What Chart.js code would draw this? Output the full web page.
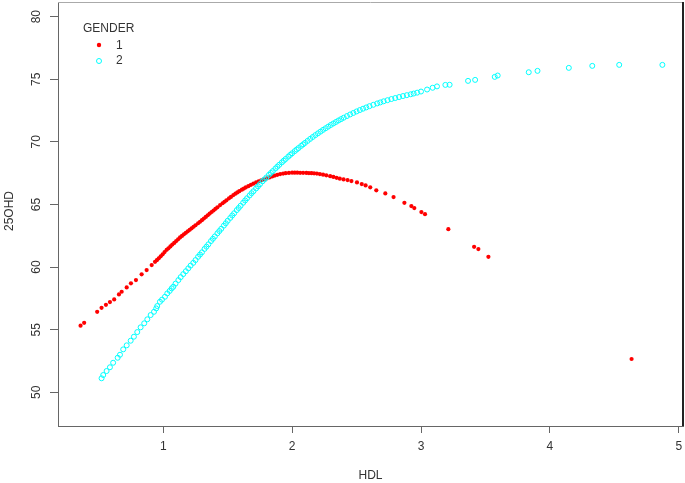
<!DOCTYPE html>
<html>
<head>
<meta charset="utf-8">
<script src="https://cdn.jsdelivr.net/npm/chart.js@4.4.1/dist/chart.umd.min.js"></script>
<style>
  body { margin: 0; background: #fff; }
  #wrap { width: 685px; height: 483px; }
</style>
</head>
<body>
<div id="wrap"><canvas id="hdlChart" width="685" height="483"></canvas></div>
<script>
// ticks
const xTicks = [1, 2, 3, 4, 5];
const yTicks = [50, 55, 60, 65, 70, 75, 80];

// GENDER 1 (red dots)
const hdl1 = [0.358, 0.386, 0.487, 0.521, 0.555, 0.586, 0.619, 0.656, 0.677, 0.716, 0.749, 0.788, 0.832, 0.871, 0.910, 0.936,
  0.95, 0.965, 0.98, 0.995, 1.01, 1.026, 1.04, 1.055, 1.07, 1.085, 1.10, 1.115, 1.13, 1.145, 1.16, 1.175, 1.19, 1.205, 1.22,
  1.235, 1.25, 1.27, 1.285, 1.30, 1.315, 1.33, 1.345, 1.36, 1.375, 1.39, 1.405, 1.42, 1.441, 1.46, 1.475, 1.49, 1.51, 1.525,
  1.544, 1.56, 1.575, 1.59, 1.61, 1.625, 1.64, 1.66, 1.68, 1.699, 1.72, 1.74, 1.76, 1.78, 1.803, 1.825, 1.845, 1.865, 1.885,
  1.907, 1.93, 1.95, 1.975, 2.00, 2.02, 2.04, 2.062, 2.085, 2.11, 2.13, 2.15, 2.17, 2.192, 2.215, 2.24, 2.265, 2.295, 2.32,
  2.345, 2.37, 2.399, 2.43, 2.46, 2.503, 2.54, 2.57, 2.606, 2.653, 2.723, 2.787, 2.871, 2.925, 2.948, 3.003, 3.031, 3.212,
  3.412, 3.445, 3.523, 4.634];
const ohd1 = [55.32, 55.55, 56.43, 56.75, 56.99, 57.21, 57.42, 57.82, 58.03, 58.38, 58.70, 58.96, 59.42, 59.76, 60.16, 60.42,
  60.55, 60.70, 60.86, 61.02, 61.20, 61.38, 61.50, 61.65, 61.80, 61.93, 62.08, 62.22, 62.37, 62.49, 62.62, 62.74, 62.86, 62.98, 63.10,
  63.22, 63.34, 63.50, 63.62, 63.75, 63.88, 64.01, 64.14, 64.27, 64.40, 64.52, 64.65, 64.77, 64.95, 65.10, 65.22, 65.33, 65.49, 65.60,
  65.75, 65.86, 65.96, 66.06, 66.18, 66.27, 66.36, 66.46, 66.57, 66.66, 66.76, 66.85, 66.93, 67.00, 67.08, 67.16, 67.24, 67.31, 67.37,
  67.43, 67.47, 67.50, 67.52, 67.54, 67.54, 67.54, 67.53, 67.53, 67.52, 67.51, 67.50, 67.49, 67.47, 67.43, 67.38, 67.33, 67.26, 67.20,
  67.13, 67.06, 67.00, 66.95, 66.87, 66.76, 66.63, 66.52, 66.37, 66.13, 65.88, 65.59, 65.13, 64.87, 64.71, 64.39, 64.23, 63.03,
  61.62, 61.44, 60.82, 52.66];

// GENDER 2 (cyan circles)
const hdl2 = [0.521, 0.534, 0.560, 0.586, 0.611, 0.646, 0.664, 0.689, 0.716, 0.747, 0.772, 0.798, 0.824, 0.852, 0.876, 0.902,
  0.928, 0.945, 0.953, 0.974, 0.99, 1.013, 1.031, 1.05, 1.065, 1.078, 1.095, 1.117, 1.135, 1.155, 1.175, 1.194, 1.212, 1.233,
  1.25, 1.27, 1.285, 1.30, 1.32, 1.335, 1.35, 1.37, 1.385, 1.40, 1.42, 1.435, 1.45, 1.47, 1.485, 1.50, 1.52, 1.535, 1.55, 1.57,
  1.585, 1.60, 1.62, 1.635, 1.65, 1.67, 1.685, 1.70, 1.72, 1.735, 1.75, 1.77, 1.785, 1.80, 1.82, 1.835, 1.85, 1.87, 1.885, 1.90,
  1.92, 1.935, 1.95, 1.97, 1.985, 2.00, 2.02, 2.035, 2.05, 2.07, 2.085, 2.10, 2.12, 2.14, 2.16, 2.18, 2.20, 2.22, 2.24, 2.26,
  2.28, 2.30, 2.32, 2.34, 2.36, 2.38, 2.40, 2.425, 2.45, 2.475, 2.50, 2.525, 2.55, 2.575, 2.60, 2.63, 2.66, 2.684, 2.71, 2.74,
  2.77, 2.80, 2.83, 2.86, 2.89, 2.92, 2.943, 2.97, 3.00, 3.047, 3.09, 3.124, 3.189, 3.222, 3.365, 3.420, 3.572, 3.595, 3.836,
  3.904, 4.147, 4.329, 4.538, 4.873];
const ohd2 = [51.12, 51.38, 51.70, 52.00, 52.36, 52.76, 53.00, 53.43, 53.75, 54.12, 54.44, 54.81, 55.19, 55.51, 55.83, 56.17,
  56.43, 56.70, 56.89, 57.23, 57.40, 57.63, 57.90, 58.10, 58.30, 58.43, 58.68, 58.96, 59.20, 59.44, 59.67, 59.90, 60.12, 60.34,
  60.56, 60.82, 61.00, 61.18, 61.45, 61.63, 61.82, 62.08, 62.26, 62.45, 62.70, 62.88, 63.06, 63.31, 63.50, 63.70, 63.93, 64.12, 64.30, 64.55,
  64.72, 64.90, 65.14, 65.32, 65.50, 65.72, 65.90, 66.06, 66.28, 66.45, 66.62, 66.85, 67.00, 67.16, 67.37, 67.52, 67.67, 67.87, 68.02, 68.17,
  68.36, 68.50, 68.64, 68.82, 68.96, 69.09, 69.26, 69.39, 69.51, 69.68, 69.80, 69.92, 70.08, 70.24, 70.39, 70.54, 70.68, 70.82, 70.96, 71.09,
  71.22, 71.35, 71.47, 71.59, 71.71, 71.82, 71.93, 72.06, 72.19, 72.31, 72.43, 72.54, 72.65, 72.75, 72.85, 72.96, 73.07, 73.15, 73.24, 73.33,
  73.42, 73.50, 73.58, 73.66, 73.73, 73.80, 73.86, 73.93, 74.02, 74.18, 74.32, 74.43, 74.55, 74.56, 74.87, 74.95, 75.19, 75.30, 75.56,
  75.67, 75.91, 76.07, 76.15, 76.15];

const textColor = '#333';
const fontFamily = '"Liberation Sans", Arial, sans-serif';

const toPoints = (xs, ys) => xs.map((x, i) => ({ x, y: ys[i] }));

// R-style extras: tick labels (y rotated), axis titles, box, legend
const rStyle = {
  id: 'rStyle',
  afterDraw(chart) {
    const ctx = chart.ctx;
    const area = chart.chartArea;
    const xs = chart.scales.x;
    const ys = chart.scales.y;
    ctx.save();
    ctx.fillStyle = textColor;
    ctx.font = '12px ' + fontFamily;
    ctx.textAlign = 'center';
    ctx.textBaseline = 'middle';
    xTicks.forEach(v => {
      ctx.fillText(String(v), xs.getPixelForValue(v), 447);
    });
    yTicks.forEach(v => {
      ctx.save();
      ctx.translate(37, ys.getPixelForValue(v));
      ctx.rotate(-Math.PI / 2);
      ctx.fillText(String(v), 0, 0);
      ctx.restore();
    });
    ctx.save();
    ctx.translate(10, (area.top + area.bottom) / 2 - 3);
    ctx.rotate(-Math.PI / 2);
    ctx.fillText('25OHD', 0, 0);
    ctx.restore();
    ctx.fillText('HDL', (area.left + area.right) / 2, 476);

    // top / right of box
    ctx.strokeStyle = '#aaa';
    ctx.lineWidth = 1;
    ctx.beginPath();
    ctx.moveTo(area.left, area.top + 0.5);
    ctx.lineTo(area.right, area.top + 0.5);
    ctx.stroke();
    ctx.strokeStyle = '#222';
    ctx.lineWidth = 2;
    ctx.beginPath();
    ctx.moveTo(area.right, area.top);
    ctx.lineTo(area.right, area.bottom);
    ctx.stroke();

    // legend
    ctx.textAlign = 'left';
    ctx.fillText('GENDER', 83, 29);
    ctx.fillText('1', 116, 46);
    ctx.fillText('2', 116, 61);
    ctx.fillStyle = '#ff0000';
    ctx.beginPath();
    ctx.arc(99, 45, 2.2, 0, Math.PI * 2);
    ctx.fill();
    ctx.strokeStyle = '#00ffff';
    ctx.lineWidth = 1;
    ctx.beginPath();
    ctx.arc(99, 61, 2.5, 0, Math.PI * 2);
    ctx.stroke();
    ctx.restore();
  }
};

new Chart(document.getElementById('hdlChart'), {
  type: 'scatter',
  data: {
    datasets: [
      {
        label: '1',
        data: toPoints(hdl1, ohd1),
        backgroundColor: '#ff0000',
        borderWidth: 0,
        pointRadius: 2.1,
        order: 2,
      },
      {
        label: '2',
        data: toPoints(hdl2, ohd2),
        backgroundColor: 'rgba(0,0,0,0)',
        borderColor: '#00ffff',
        borderWidth: 1,
        pointRadius: 2.5,
        order: 1,
      },
    ],
  },
  options: {
    responsive: false,
    animation: false,
    layout: { autoPadding: false, padding: { top: 2, right: 2 } },
    plugins: {
      legend: { display: false },
      tooltip: { enabled: false },
    },
    scales: {
      x: {
        type: 'linear',
        min: 0.183,
        max: 5.033,
        afterBuildTicks: s => { s.ticks = xTicks.map(v => ({ value: v })); },
        afterFit: s => { s.height = 57; },
        ticks: { display: false },
        grid: { drawOnChartArea: false, drawTicks: true, tickLength: 7, color: '#666' },
        border: { color: '#666', width: 1 },
      },
      y: {
        type: 'linear',
        min: 47.31,
        max: 81.17,
        afterBuildTicks: s => { s.ticks = yTicks.map(v => ({ value: v })); },
        afterFit: s => { s.width = 58; },
        ticks: { display: false },
        grid: { drawOnChartArea: false, drawTicks: true, tickLength: 8, color: '#666' },
        border: { color: '#666', width: 1 },
      },
    },
  },
  plugins: [rStyle],
});
</script>
</body>
</html>
